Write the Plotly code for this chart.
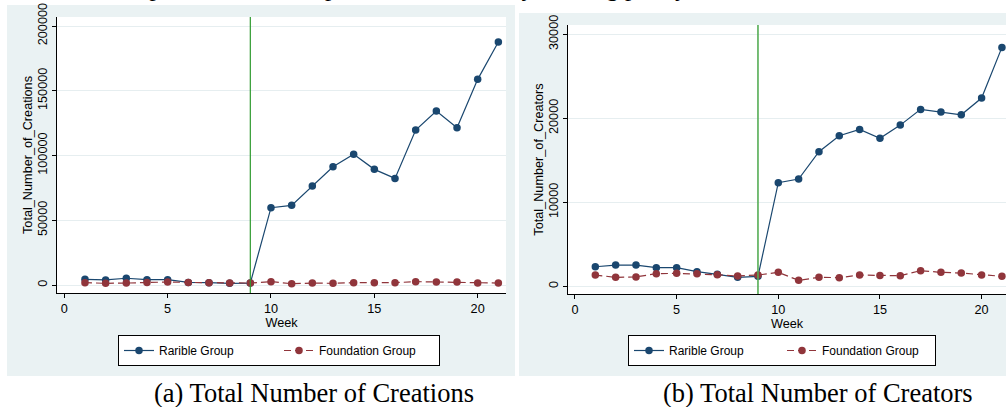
import plotly.graph_objects as go

# ---------------- data ----------------
weeks = list(range(1, 22))
rarible_creations = [4400, 3900, 5200, 4100, 4100, 2000, 1800, 1300, 1500,
                     59700, 61500, 76400, 91300, 100900, 89300, 82300,
                     119600, 134300, 121400, 158800, 187600]
foundation_creations = [1800, 1300, 1500, 2000, 2300, 2000, 1800, 1500, 1500,
                        2600, 1000, 1500, 1300, 1800, 1800, 1800,
                        2600, 2300, 2300, 1500, 1500]
rarible_creators = [2330, 2530, 2530, 2220, 2220, 1740, 1430, 1070, 1190,
                    12330, 12770, 16020, 17920, 18680, 17610, 19190,
                    21060, 20740, 20420, 22410, 28440]
foundation_creators = [1340, 1070, 1110, 1500, 1540, 1500, 1380, 1230, 1340,
                       1660, 710, 1070, 1030, 1340, 1300, 1260,
                       1860, 1660, 1580, 1340, 1190]
policy_week = 9
x_ticks = [0, 5, 10, 15, 20]
y_ticks_a = [0, 50000, 100000, 150000, 200000]
y_ticks_b = [0, 10000, 20000, 30000]
series_names = ["Rarible Group", "Foundation Group"]
captions = ["(a) Total Number of Creations", "(b) Total Number of Creators"]
top_note = "The vertical line represents the time point when the rarity-ranking policy was introduced on Rarible."

# ---------------- style ----------------
W, H = 1006, 407
NAVY = "#1a476f"
MAROON = "#90353b"
GREEN = "#2f9a2f"
PANEL = "#eaf2f3"
GRID = "#e6eef0"
SANS = "Liberation Sans, Arial, sans-serif"
SERIF = "Liberation Serif, Times New Roman, serif"


def px_x(p):
    return p / W


def px_y(p):
    return 1 - p / H


fig = go.Figure()

panels = [
    dict(x="x", y="y", legend="legend", rar=rarible_creations, fnd=foundation_creations),
    dict(x="x2", y="y2", legend="legend2", rar=rarible_creators, fnd=foundation_creators),
]
for p in panels:
    fig.add_trace(go.Scatter(
        x=weeks, y=p["rar"], mode="lines+markers", name=series_names[0],
        line=dict(color=NAVY, width=1.2), marker=dict(color=NAVY, size=7.5),
        xaxis=p["x"], yaxis=p["y"], legend=p["legend"]))
    fig.add_trace(go.Scatter(
        x=weeks, y=p["fnd"], mode="lines+markers", name=series_names[1],
        line=dict(color=MAROON, width=1.2, dash="7px,4px"), marker=dict(color=MAROON, size=7.5),
        xaxis=p["x"], yaxis=p["y"], legend=p["legend"]))

shapes = [
    # panel backgrounds
    dict(type="rect", xref="paper", yref="paper", x0=px_x(7), x1=px_x(515),
         y0=px_y(376), y1=px_y(5), fillcolor=PANEL, line=dict(width=0), layer="below"),
    dict(type="rect", xref="paper", yref="paper", x0=px_x(519), x1=1,
         y0=px_y(376), y1=px_y(13), fillcolor=PANEL, line=dict(width=0), layer="below"),
    # white plot regions
    dict(type="rect", xref="paper", yref="paper", x0=px_x(57), x1=px_x(506),
         y0=px_y(293), y1=px_y(17), fillcolor="white", line=dict(width=0), layer="below"),
    dict(type="rect", xref="paper", yref="paper", x0=px_x(568), x1=1,
         y0=px_y(294), y1=px_y(25), fillcolor="white", line=dict(width=0), layer="below"),
    # policy lines
    dict(type="line", xref="x", yref="y domain", x0=policy_week, x1=policy_week,
         y0=0, y1=1, line=dict(color=GREEN, width=1.2)),
    dict(type="line", xref="x2", yref="y2 domain", x0=policy_week, x1=policy_week,
         y0=0, y1=1, line=dict(color="#55ad55", width=1.6)),
]

axis_common = dict(
    showline=True, linecolor="black", linewidth=1, mirror=False,
    ticks="outside", ticklen=4, tickcolor="black", tickwidth=1,
    tickfont=dict(family=SANS, size=12.7, color="black"),
    zeroline=False, tickformat="d", automargin=False,
)
title_font = dict(family=SANS, size=12.7, color="black")

fig.update_layout(
    width=W, height=H,
    margin=dict(l=0, r=0, t=0, b=0),
    paper_bgcolor="white", plot_bgcolor="rgba(0,0,0,0)",
    shapes=shapes,
    xaxis=dict(domain=[px_x(57), px_x(506)], range=[-0.353, 21.37], anchor="y",
               tickvals=x_ticks, showgrid=False,
               title=dict(text="Week", font=title_font, standoff=0),
               **axis_common),
    yaxis=dict(domain=[px_y(293), px_y(17)], range=[-6178, 206950], anchor="x",
               tickvals=y_ticks_a, tickangle=-90, showgrid=True, gridcolor=GRID, gridwidth=1,
               title=dict(text="Total_Number_of_Creations", font=title_font, standoff=0),
               **axis_common),
    xaxis2=dict(domain=[px_x(568), 1], range=[-0.344, 21.2], anchor="y2",
                tickvals=x_ticks, showgrid=False,
                title=dict(text="Week", font=title_font, standoff=0),
                **axis_common),
    yaxis2=dict(domain=[px_y(294), px_y(25)], range=[-917, 31107], anchor="x2",
                tickvals=y_ticks_b, tickangle=-90, showgrid=True, gridcolor=GRID, gridwidth=1,
                title=dict(text="Total_Number_of_Creators", font=title_font, standoff=0),
                **axis_common),
    legend=dict(orientation="h", x=px_x(118), xanchor="left", y=px_y(335), yanchor="top",
                bgcolor="white", bordercolor="black", borderwidth=1,
                font=dict(family=SANS, size=12, color="black"), entrywidth=115,
                entrywidthmode="pixels", itemclick=False),
    legend2=dict(orientation="h", x=px_x(628), xanchor="left", y=px_y(335), yanchor="top",
                 bgcolor="white", bordercolor="black", borderwidth=1,
                 font=dict(family=SANS, size=12, color="black"), entrywidth=108,
                 entrywidthmode="pixels", itemclick=False),
    annotations=[
        dict(text=captions[0], xref="paper", yref="paper", x=px_x(314), y=px_y(393),
             xanchor="center", yanchor="middle", showarrow=False,
             font=dict(family=SERIF, size=26.5, color="black")),
        dict(text=captions[1], xref="paper", yref="paper", x=px_x(818), y=px_y(393),
             xanchor="center", yanchor="middle", showarrow=False,
             font=dict(family=SERIF, size=26.5, color="black")),
        dict(text=top_note, xref="paper", yref="paper", x=px_x(-42), y=px_y(3.5),
             xanchor="left", yanchor="bottom", showarrow=False,
             font=dict(family=SERIF, size=25, color="black")),
    ],
)

fig.write_html("out.html", config={"displayModeBar": False},
               post_script="document.body.style.margin='0';")
